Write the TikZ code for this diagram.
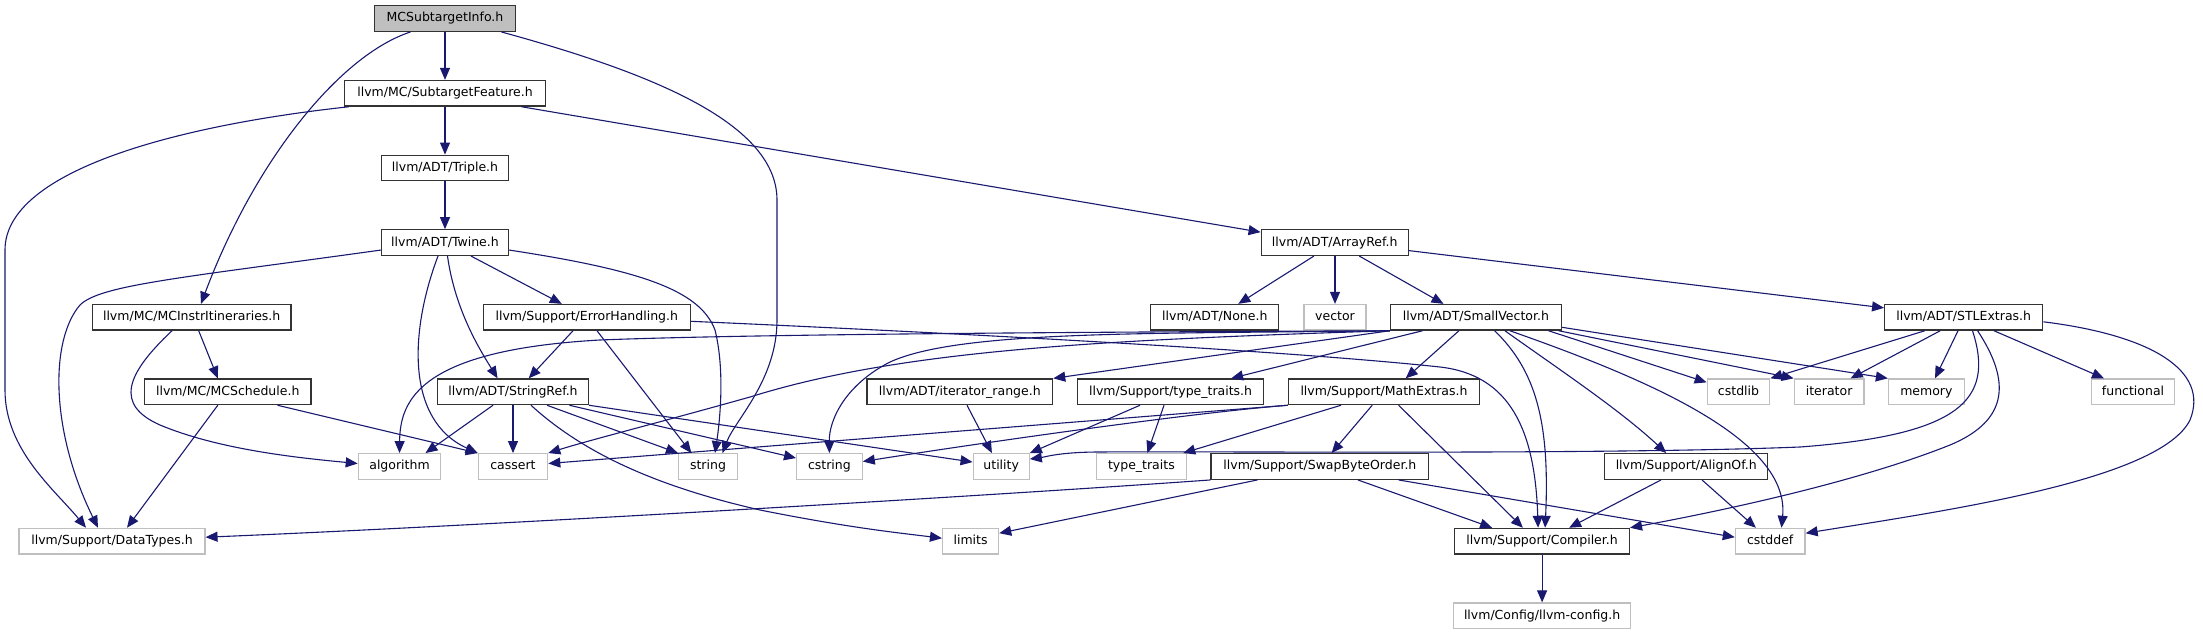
\documentclass[tikz,border=0pt]{standalone}
\usepackage{fontspec}
\setmainfont{DejaVu Sans}
\usetikzlibrary{arrows.meta}
\definecolor{edgecol}{HTML}{191970}
\definecolor{extgray}{HTML}{BFBFBF}
\begin{document}
\begin{tikzpicture}[x=1pt,y=-1pt,
  box/.style={rectangle, inner sep=0pt, minimum height=25.6pt, text height=9.4pt, text depth=2.6pt, font=\fontsize{12.5}{14}\selectfont, line width=1.3pt},
  file/.style={box, draw=black!80, fill=white},
  ext/.style={box, draw=extgray, fill=white},
  root/.style={box, draw=black!80, fill=extgray},
  dep/.style={draw=edgecol, line width=1.1pt, -{Triangle[length=12pt,width=10pt]}}]
\useasboundingbox (0,0) rectangle (2203,635);
\fill[white] (0,0) rectangle (2203,635);
% nodes
\node[root, minimum width=141pt] (info) at (445,18.5) {MCSubtargetInfo.h};
\node[file, minimum width=200.5pt] (feat) at (445,93.3) {llvm/MC/SubtargetFeature.h};
\node[file, minimum width=127pt] (triple) at (445,168) {llvm/ADT/Triple.h};
\node[file, minimum width=127pt] (twine) at (445,242.6) {llvm/ADT/Twine.h};
\node[file, minimum width=147pt] (arrayref) at (1334.7,242.6) {llvm/ADT/ArrayRef.h};
\node[file, minimum width=198.7pt] (itin) at (191.7,317.3) {llvm/MC/MCInstrItineraries.h};
\node[file, minimum width=207pt] (errh) at (586.8,317.3) {llvm/Support/ErrorHandling.h};
\node[file, minimum width=128pt] (none) at (1214.8,317.3) {llvm/ADT/None.h};
\node[ext, minimum width=62pt] (vector) at (1335,317.3) {vector};
\node[file, minimum width=171pt] (smallvec) at (1475.9,317.3) {llvm/ADT/SmallVector.h};
\node[file, minimum width=158pt] (stlextras) at (1963.7,317.3) {llvm/ADT/STLExtras.h};
\node[file, minimum width=166.5pt] (sched) at (227.8,391.8) {llvm/MC/MCSchedule.h};
\node[file, minimum width=150.7pt] (stringref) at (513,391.8) {llvm/ADT/StringRef.h};
\node[file, minimum width=185.6pt] (iterrange) at (959.8,391.8) {llvm/ADT/iterator\_range.h};
\node[file, minimum width=186pt] (typetraitsh) at (1170.6,391.8) {llvm/Support/type\_traits.h};
\node[file, minimum width=191pt] (mathextras) at (1384,391.8) {llvm/Support/MathExtras.h};
\node[ext, minimum width=62.5pt] (cstdlib) at (1738.5,391.8) {cstdlib};
\node[ext, minimum width=69.6pt] (iterator) at (1829.1,391.8) {iterator};
\node[ext, minimum width=75.8pt] (memory) at (1926.4,391.8) {memory};
\node[ext, minimum width=83.5pt] (functional) at (2133,391.8) {functional};
\node[ext, minimum width=82.3pt] (algorithm) at (399.5,466.5) {algorithm};
\node[ext, minimum width=69.3pt] (cassert) at (513,466.5) {cassert};
\node[ext, minimum width=58.8pt] (string) at (708,466.5) {string};
\node[ext, minimum width=65.5pt] (cstring) at (829.4,466.5) {cstring};
\node[ext, minimum width=56pt] (utility) at (1001.2,466.5) {utility};
\node[ext, minimum width=90.4pt] (typetraits) at (1141.4,466.5) {type\_traits};
\node[file, minimum width=217.7pt] (swap) at (1319.9,466.5) {llvm/Support/SwapByteOrder.h};
\node[file, minimum width=162.8pt] (alignof) at (1686.2,466.5) {llvm/Support/AlignOf.h};
\node[ext, minimum width=185.8pt] (datatypes) at (112,541.2) {llvm/Support/DataTypes.h};
\node[ext, minimum width=56pt] (limits) at (970.6,541.2) {limits};
\node[file, minimum width=174.6pt] (compiler) at (1542.1,541.2) {llvm/Support/Compiler.h};
\node[ext, minimum width=69.6pt] (cstddef) at (1770.2,541.2) {cstddef};
\node[ext, minimum width=177pt] (config) at (1542.1,615.8) {llvm/Config/llvm-config.h};
% edges from MCSubtargetInfo.h
\draw[dep] (info) -- (feat);
\draw[dep] ([xshift=-34.5pt]info.south) .. controls (340,55) and (255,160) .. ([xshift=9.3pt]itin.north);
\draw[dep] ([xshift=56.4pt]info.south) .. controls (640,70) and (777,120) .. (777,200) -- (777,320) .. controls (777,380) and (735,420) .. ([xshift=14.5pt]string.north);
% SubtargetFeature.h
\draw[dep] (feat) -- (triple);
\draw[dep] ([xshift=-96pt]feat.south) .. controls (180,125) and (5,170) .. (5,250) -- (5,390) .. controls (5,450) and (55,490) .. ([xshift=-26pt]datatypes.north);
\draw[dep] ([xshift=76.5pt]feat.south) -- ([yshift=-3pt]arrayref.north west);
% Triple.h
\draw[dep] (triple) -- (twine);
% Twine.h
\draw[dep] ([yshift=6pt]twine.south west) .. controls (180,278) and (100,285) .. (80,305) .. controls (50,340) and (50,430) .. ([xshift=-14pt]datatypes.north);
\draw[dep] ([xshift=-7pt]twine.south) .. controls (410,330) and (405,420) .. (cassert.north west);
\draw[dep] ([xshift=2.5pt]twine.south) .. controls (455,310) and (480,350) .. ([xshift=-15.4pt]stringref.north);
\draw[dep] ([xshift=26pt]twine.south) -- ([xshift=-25pt]errh.north);
\draw[dep] ([yshift=6pt]twine.south east) .. controls (640,270) and (700,290) .. (715,330) .. controls (725,370) and (720,420) .. ([xshift=7pt]string.north);
% MCInstrItineraries.h
\draw[dep] ([xshift=7pt]itin.south) -- ([xshift=-10pt]sched.north);
\draw[dep] ([xshift=-19.7pt]itin.south) .. controls (125,375) and (115,405) .. (160,425) .. controls (220,450) and (300,458) .. ([yshift=3pt]algorithm.west);
% MCSchedule.h
\draw[dep] ([xshift=-10pt]sched.south) -- ([xshift=15pt]datatypes.north);
\draw[dep] ([xshift=49.7pt]sched.south) -- (cassert.north west);
% ErrorHandling.h
\draw[dep] ([xshift=-13.8pt]errh.south) -- ([xshift=15.7pt]stringref.north);
\draw[dep] ([xshift=10.2pt]errh.south) -- ([xshift=-16.6pt]string.north);
\draw[dep] ([yshift=-4pt]errh.east) .. controls (1000,335) and (1300,352) .. (1440,367) .. controls (1510,375) and (1535,430) .. ([xshift=-4pt]compiler.north);
% StringRef.h
\draw[dep] ([xshift=-20pt]stringref.south) -- ([xshift=26pt]algorithm.north);
\draw[dep] (stringref) -- (cassert);
\draw[dep] ([xshift=34pt]stringref.south) -- (string.north west);
\draw[dep] ([xshift=56.4pt]stringref.south) -- ([yshift=-5pt]cstring.north west);
\draw[dep] (stringref.south east) -- ([yshift=-9pt]utility.north west);
\draw[dep] ([xshift=18pt]stringref.south) .. controls (580,450) and (650,485) .. (760,510) .. controls (850,528) and (900,533) .. ([yshift=3pt]limits.west);
% ArrayRef.h
\draw[dep] ([xshift=-20.8pt]arrayref.south) -- ([xshift=23.5pt]none.north);
\draw[dep] ([xshift=0.3pt]arrayref.south) -- (vector.north);
\draw[dep] ([xshift=24.6pt]arrayref.south) -- ([xshift=-32.4pt]smallvec.north);
\draw[dep] ([yshift=-8pt]arrayref.east) -- ([yshift=-4pt]stlextras.north west);
% SmallVector.h
\draw[dep] (smallvec.south west) .. controls (1100,332) and (750,334) .. (600,340) .. controls (420,350) and (400,400) .. (algorithm.north);
\draw[dep] (smallvec.south west) .. controls (1150,334) and (960,330) .. (890,362) .. controls (845,385) and (829,420) .. (cstring.north);
\draw[dep] (smallvec.south west) .. controls (1100,340) and (900,350) .. (750,397) .. controls (650,425) and (590,440) .. (cassert.north east);
\draw[dep] (smallvec.south west) -- (iterrange.north east);
\draw[dep] ([xshift=-53.4pt]smallvec.south) -- ([xshift=60.5pt]typetraitsh.north);
\draw[dep] ([xshift=-17pt]smallvec.south) -- ([xshift=21.7pt]mathextras.north);
\draw[dep] ([xshift=18.8pt]smallvec.south) .. controls (1535,370) and (1550,420) .. ([xshift=3pt]compiler.north);
\draw[dep] ([xshift=29pt]smallvec.south) .. controls (1560,370) and (1620,410) .. ([xshift=-20pt]alignof.north);
\draw[dep] ([xshift=34pt]smallvec.south) .. controls (1650,380) and (1790,440) .. ([xshift=11.3pt]cstddef.north);
\draw[dep] ([xshift=72.6pt]smallvec.south) -- ([yshift=-4pt]cstdlib.north west);
\draw[dep] ([xshift=82.8pt]smallvec.south) -- (iterator.north west);
\draw[dep] ([yshift=-10pt]smallvec.east) -- (memory.north west);
% STLExtras.h
\draw[dep] ([xshift=-38.9pt]stlextras.south) -- (cstdlib.north east);
\draw[dep] ([xshift=-23.5pt]stlextras.south) -- ([xshift=21.5pt]iterator.north);
\draw[dep] ([xshift=-5.7pt]stlextras.south) -- ([xshift=8.6pt]memory.north);
\draw[dep] ([xshift=30.3pt]stlextras.south) -- ([xshift=-29pt]functional.north);
\draw[dep] ([xshift=8.8pt]stlextras.south) .. controls (1995,400) and (1960,435) .. (1800,447) .. controls (1600,455) and (1200,451) .. (1100,452) .. controls (1060,452) and (1045,457) .. ([yshift=-6pt]utility.north east);
\draw[dep] ([xshift=13.9pt]stlextras.south) .. controls (2010,380) and (2010,420) .. (1950,445) .. controls (1850,485) and (1700,515) .. (compiler.north east);
\draw[dep] ([yshift=-4.5pt]stlextras.east) .. controls (2150,335) and (2210,370) .. (2190,420) .. controls (2160,480) and (1950,510) .. ([yshift=8pt]cstddef.east);
% MathExtras.h
\draw[dep] (mathextras.south west) -- ([yshift=3pt]cassert.east);
\draw[dep] (mathextras.south west) .. controls (1200,412) and (1000,440) .. ([yshift=5pt]cstring.east);
\draw[dep] ([xshift=-43pt]mathextras.south) -- ([xshift=-4pt]typetraits.north east);
\draw[dep] ([xshift=-11.8pt]mathextras.south) -- ([xshift=11.7pt]swap.north);
\draw[dep] ([xshift=14.6pt]mathextras.south) -- ([xshift=-19.2pt]compiler.north);
% type_traits.h, iterator_range.h
\draw[dep] ([xshift=-30.6pt]typetraitsh.south) -- (utility.north east);
\draw[dep] ([xshift=-6.6pt]typetraitsh.south) -- ([xshift=6pt]typetraits.north);
\draw[dep] ([xshift=7.2pt]iterrange.south) -- ([xshift=-9.3pt]utility.north);
% SwapByteOrder.h
\draw[dep] (swap.south west) .. controls (1000,495) and (500,525) .. ([yshift=4pt]datatypes.east);
\draw[dep] ([xshift=-62.5pt]swap.south) -- ([yshift=8pt]limits.east);
\draw[dep] ([xshift=38pt]swap.south) -- ([xshift=-50pt]compiler.north);
\draw[dep] ([xshift=78.7pt]swap.south) -- ([yshift=4pt]cstddef.west);
% AlignOf.h
\draw[dep] ([xshift=-25.2pt]alignof.south) -- ([xshift=27pt]compiler.north);
\draw[dep] ([xshift=15.8pt]alignof.south) -- ([xshift=-14.3pt]cstddef.north);
% Compiler.h
\draw[dep] (compiler) -- (config);
\end{tikzpicture}
\end{document}
